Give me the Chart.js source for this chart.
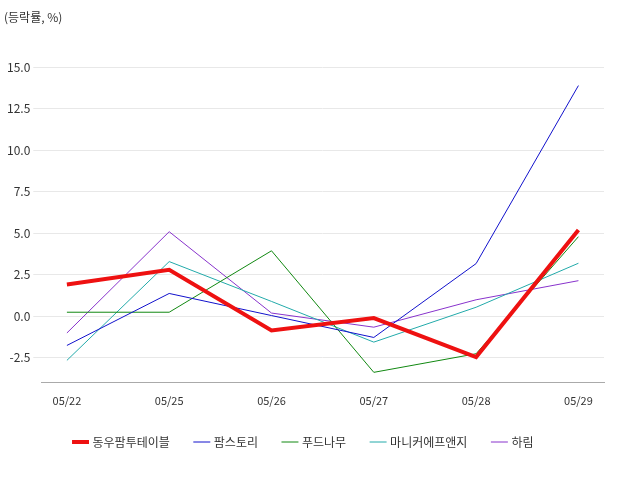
<!DOCTYPE html><html><head><meta charset="utf-8">
<script src="https://cdn.jsdelivr.net/npm/chart.js@4"></script>
<style>body{margin:0;background:#fff}</style></head><body>
<canvas id="c" width="640" height="480"></canvas>
<script>
const labels=['05/22','05/25','05/26','05/27','05/28','05/29'];
const names=['동우팜투테이블','팜스토리','푸드나무','마니커에프앤지','하림'];
const s0=[1.92,2.8,-0.85,-0.1,-2.45,5.2];
const s1=[-1.75,1.38,0.05,-1.27,3.18,13.9];
const s2=[0.25,0.25,3.95,-3.37,-2.25,4.8];
const s3=[-2.65,3.3,0.9,-1.55,0.55,3.2];
const s4=[-1.0,5.1,0.2,-0.65,1.0,2.15];
const colors=['#ee1111','#1111cc','#118811','#22aaaa','#8833cc'];
const widths=[4,1,1,1,1];
const all=[s0,s1,s2,s3,s4];
Chart.defaults.font.family='"Noto Sans CJK KR","Noto Sans",sans-serif';
Chart.defaults.color='#333';
new Chart(document.getElementById('c'),{type:'line',
data:{datasets:all.map((d,i)=>({label:names[i],data:d.map((v,j)=>({x:j,y:v})),borderColor:colors[i],backgroundColor:colors[i],borderWidth:widths[i],pointRadius:0,tension:0}))},
options:{responsive:false,animation:false,devicePixelRatio:1,
layout:{padding:{left:4,right:36,top:10,bottom:22}},
plugins:{title:{display:true,text:'(등락률, %)',align:'start',font:{size:12,weight:'normal'},padding:{bottom:18}},
legend:{position:'bottom',labels:{usePointStyle:true,pointStyle:'line',boxWidth:36,padding:26,font:{size:12}}}},
scales:{x:{type:'linear',min:-0.25,max:5.25,grid:{display:false},border:{color:'#aaa'},
afterBuildTicks:a=>{a.ticks=labels.map((l,i)=>({value:i}));},
ticks:{callback:v=>labels[v],font:{size:11},maxRotation:0}},
y:{min:-4,max:16.5,grid:{color:'#e8e8e8'},border:{display:false},
afterBuildTicks:a=>{a.ticks=[-2.5,0,2.5,5,7.5,10,12.5,15].map(v=>({value:v}));},
ticks:{callback:v=>v.toFixed(1),font:{size:12}}}}}});
</script></body></html>
